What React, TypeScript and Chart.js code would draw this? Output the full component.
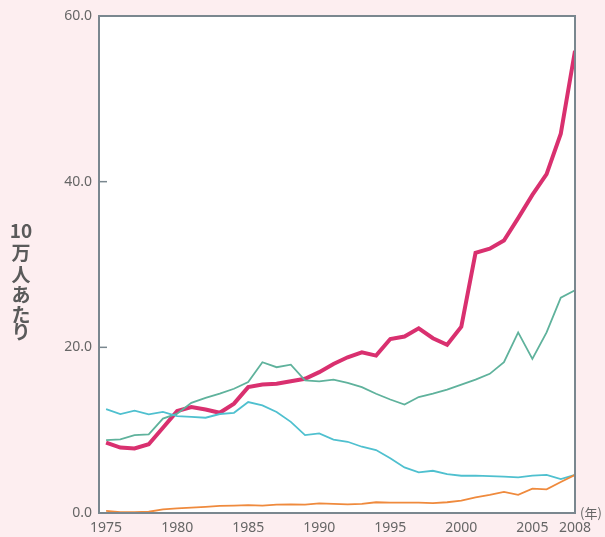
import React, { useEffect, useRef } from 'react';
import { Chart, registerables } from 'chart.js';

Chart.register(...registerables);

const years = [
  1975, 1976, 1977, 1978, 1979, 1980, 1981, 1982, 1983, 1984,
  1985, 1986, 1987, 1988, 1989, 1990, 1991, 1992, 1993, 1994,
  1995, 1996, 1997, 1998, 1999, 2000, 2001, 2002, 2003, 2004,
  2005, 2006, 2007, 2008,
];

const seriesMagenta = [
  8.5, 7.9, 7.8, 8.3, 10.3, 12.3, 12.8, 12.5, 12.1, 13.2,
  15.2, 15.5, 15.6, 15.9, 16.2, 17.0, 18.0, 18.8, 19.4, 19.0,
  21.0, 21.3, 22.3, 21.1, 20.3, 22.5, 31.4, 31.9, 32.9, 35.6,
  38.4, 40.9, 45.8, 55.8,
];

const seriesTeal = [
  8.8, 8.9, 9.4, 9.5, 11.4, 12.0, 13.3, 13.9, 14.4, 15.0,
  15.8, 18.2, 17.6, 17.9, 16.0, 15.9, 16.1, 15.7, 15.2, 14.4,
  13.7, 13.1, 14.0, 14.4, 14.9, 15.5, 16.1, 16.8, 18.2, 21.8,
  18.6, 21.8, 26.0, 26.9,
];

const seriesCyan = [
  12.55, 11.95, 12.35, 11.9, 12.2, 11.7, 11.6, 11.5, 11.95, 12.1,
  13.4, 13.0, 12.2, 11.0, 9.4, 9.6, 8.85, 8.6, 8.0, 7.6,
  6.6, 5.5, 4.9, 5.1, 4.7, 4.5, 4.5, 4.45, 4.4, 4.3,
  4.5, 4.6, 4.1, 4.6,
];

const seriesOrange = [
  0.25, 0.1, 0.1, 0.15, 0.45, 0.55, 0.65, 0.75, 0.85, 0.9,
  0.95, 0.9, 1.0, 1.05, 1.0, 1.15, 1.1, 1.05, 1.1, 1.3,
  1.25, 1.25, 1.25, 1.2, 1.3, 1.5, 1.9, 2.2, 2.55, 2.2,
  2.95, 2.85, 3.75, 4.6,
];

const xTickValues = [1975, 1980, 1985, 1990, 1995, 2000, 2005, 2008];
const yTickValues = [0, 20, 40, 60];
const yTitleLines = ['10', '万', '人', 'あ', 'た', 'り'];
const xUnitLabel = '(年)';

const toPoints = (vals: number[]) => years.map((yr, i) => ({ x: yr, y: vals[i] }));

const decorPlugin = {
  id: 'decor',
  beforeDraw(chart: any) {
    const { ctx, chartArea } = chart;
    ctx.save();
    ctx.fillStyle = '#fdeef0';
    ctx.fillRect(0, 0, chart.width, chart.height);
    ctx.fillStyle = '#ffffff';
    ctx.fillRect(chartArea.left, chartArea.top, chartArea.right - chartArea.left, chartArea.bottom - chartArea.top);
    ctx.restore();
  },
  afterDatasetsDraw(chart: any) {
    const { ctx, chartArea, scales } = chart;
    ctx.save();
    ctx.strokeStyle = '#7a878f';
    ctx.lineWidth = 2;
    ctx.strokeRect(chartArea.left, chartArea.top, chartArea.right - chartArea.left, chartArea.bottom - chartArea.top);
    ctx.lineWidth = 1.5;
    yTickValues.forEach((v) => {
      const y = scales.y.getPixelForValue(v);
      ctx.beginPath();
      ctx.moveTo(chartArea.left, y);
      ctx.lineTo(chartArea.left + 8, y);
      ctx.stroke();
    });
    ctx.fillStyle = '#5a5a5a';
    ctx.font = 'bold 19px "Noto Sans CJK JP", "Noto Sans", sans-serif';
    ctx.textAlign = 'center';
    ctx.textBaseline = 'middle';
    const ys = [231, 253, 275, 295, 315, 332];
    yTitleLines.forEach((t, i) => ctx.fillText(t, 21, ys[i]));
    ctx.fillStyle = '#666666';
    ctx.font = '13px "Noto Sans CJK JP", "Noto Sans", sans-serif';
    ctx.textAlign = 'center';
    ctx.fillText(xUnitLabel, 591, chartArea.bottom);
    ctx.restore();
  },
};

export default function App() {
  const canvasRef = useRef<HTMLCanvasElement | null>(null);

  useEffect(() => {
    document.body.style.margin = '0';
    const canvas = canvasRef.current;
    if (!canvas) return;
    const chart = new Chart(canvas, {
      type: 'line',
      data: {
        datasets: [
          { label: 'orange', data: toPoints(seriesOrange), borderColor: '#ef8a3d', borderWidth: 1.8 },
          { label: 'cyan', data: toPoints(seriesCyan), borderColor: '#4fc0cf', borderWidth: 1.8 },
          { label: 'teal', data: toPoints(seriesTeal), borderColor: '#5fb29c', borderWidth: 1.8 },
          { label: 'magenta', data: toPoints(seriesMagenta), borderColor: '#d9306f', borderWidth: 4 },
        ].map((d) => ({ ...d, pointRadius: 0, tension: 0, fill: false })),
      },
      options: {
        animation: false,
        responsive: false,
        devicePixelRatio: 1,
        layout: { padding: { left: 0, top: 16, right: 30, bottom: 0 } },
        plugins: { legend: { display: false }, tooltip: { enabled: false } },
        scales: {
          x: {
            type: 'linear',
            min: 1974.5,
            max: 2008,
            grid: { display: false, drawTicks: false },
            border: { display: false },
            afterBuildTicks: (scale: any) => {
              scale.ticks = xTickValues.map((v) => ({ value: v }));
            },
            afterFit: (scale: any) => {
              scale.height = 24;
            },
            ticks: {
              autoSkip: false,
              maxRotation: 0,
              padding: 7,
              color: '#666666',
              font: { family: '"Noto Sans", sans-serif', size: 14 },
              callback: (v: any) => String(v),
            },
          },
          y: {
            min: 0,
            max: 60,
            grid: { display: false, drawTicks: false },
            border: { display: false },
            afterBuildTicks: (scale: any) => {
              scale.ticks = yTickValues.map((v) => ({ value: v }));
            },
            afterFit: (scale: any) => {
              scale.width = 99;
            },
            ticks: {
              padding: 7,
              color: '#666666',
              font: { family: '"Noto Sans", sans-serif', size: 14 },
              callback: (v: any) => Number(v).toFixed(1),
            },
          },
        },
      },
      plugins: [decorPlugin],
    });
    return () => chart.destroy();
  }, []);

  return (
    <div style={{ width: 605, height: 537, background: '#fdeef0' }}>
      <canvas ref={canvasRef} width={605} height={537} style={{ display: 'block', width: 605, height: 537 }} />
    </div>
  );
}
